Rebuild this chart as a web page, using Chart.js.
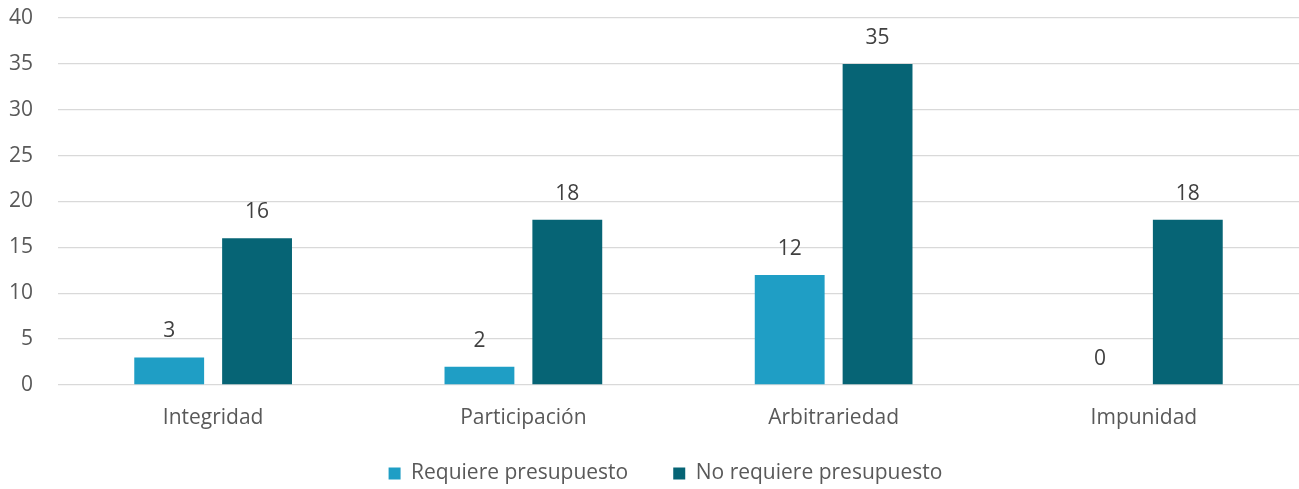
<!DOCTYPE html>
<html>
<head>
<meta charset="utf-8">
<script src="https://cdn.jsdelivr.net/npm/chart.js@4/dist/chart.umd.min.js"></script>
<style>
  html, body { margin: 0; padding: 0; background: #ffffff; }
  #wrap { width: 1299px; height: 489px; }
</style>
</head>
<body>
<div id="wrap"><canvas id="c" width="1299" height="489"></canvas></div>
<script>
const categories = ["Integridad", "Participación", "Arbitrariedad", "Impunidad"];
const requierePresupuesto = [3, 2, 12, 0];
const noRequierePresupuesto = [16, 18, 35, 18];
const yTicks = [0, 5, 10, 15, 20, 25, 30, 35, 40];

const FONT = "'Open Sans', 'Noto Sans', sans-serif";
const FONT_SIZE = 21;

// Writes each bar's value above it
const valueLabels = {
  id: 'valueLabels',
  afterDatasetsDraw(chart) {
    const ctx = chart.ctx;
    ctx.save();
    ctx.font = FONT_SIZE + "px " + FONT;
    ctx.fillStyle = '#404040';
    ctx.textAlign = 'center';
    ctx.textBaseline = 'middle';
    chart.data.datasets.forEach((ds, di) => {
      const meta = chart.getDatasetMeta(di);
      meta.data.forEach((bar, i) => {
        ctx.fillText(String(ds.data[i]), bar.x, bar.y - 26);
      });
    });
    ctx.restore();
  }
};

// Pulls the legend row up closer to the category labels and recentres it
const legendLift = {
  id: 'legendLift',
  afterLayout(chart) {
    const lg = chart.legend;
    if (!lg) return;
    lg.top -= 14;
    lg.bottom -= 14;
    lg.left += 11;
    lg.right += 11;
  }
};

new Chart(document.getElementById('c'), {
  type: 'bar',
  data: {
    labels: categories,
    datasets: [
      {
        label: 'Requiere presupuesto',
        data: requierePresupuesto,
        backgroundColor: '#1f9ec5',
        categoryPercentage: 0.5664,
        barPercentage: 0.795
      },
      {
        label: 'No requiere presupuesto',
        data: noRequierePresupuesto,
        backgroundColor: '#066475',
        categoryPercentage: 0.5664,
        barPercentage: 0.795
      }
    ]
  },
  options: {
    responsive: false,
    animation: false,
    layout: { padding: { left: 8, right: -2, top: 0, bottom: -19 } },
    plugins: {
      legend: {
        position: 'bottom',
        labels: {
          font: { family: FONT, size: FONT_SIZE },
          color: '#595959',
          boxWidth: 12,
          boxHeight: 12,
          padding: 45
        }
      },
      tooltip: { enabled: false }
    },
    scales: {
      x: {
        grid: { display: false, drawTicks: false },
        border: { display: false },
        afterFit(axis) { axis.height = 47; },
        ticks: {
          font: { family: FONT, size: FONT_SIZE },
          color: '#595959',
          padding: 20
        }
      },
      y: {
        min: 0,
        max: 40,
        afterBuildTicks(axis) { axis.ticks = yTicks.map(v => ({ value: v })); },
        afterFit(axis) {
          axis.width = 50;
          axis.paddingTop = 18;
          axis.paddingBottom = 12;
        },
        grid: { color: '#d9d9d9', lineWidth: 1.3, drawTicks: false },
        border: { display: false },
        ticks: {
          font: { family: FONT, size: FONT_SIZE },
          color: '#595959',
          padding: 25
        }
      }
    }
  },
  plugins: [valueLabels, legendLift]
});
</script>
</body>
</html>
